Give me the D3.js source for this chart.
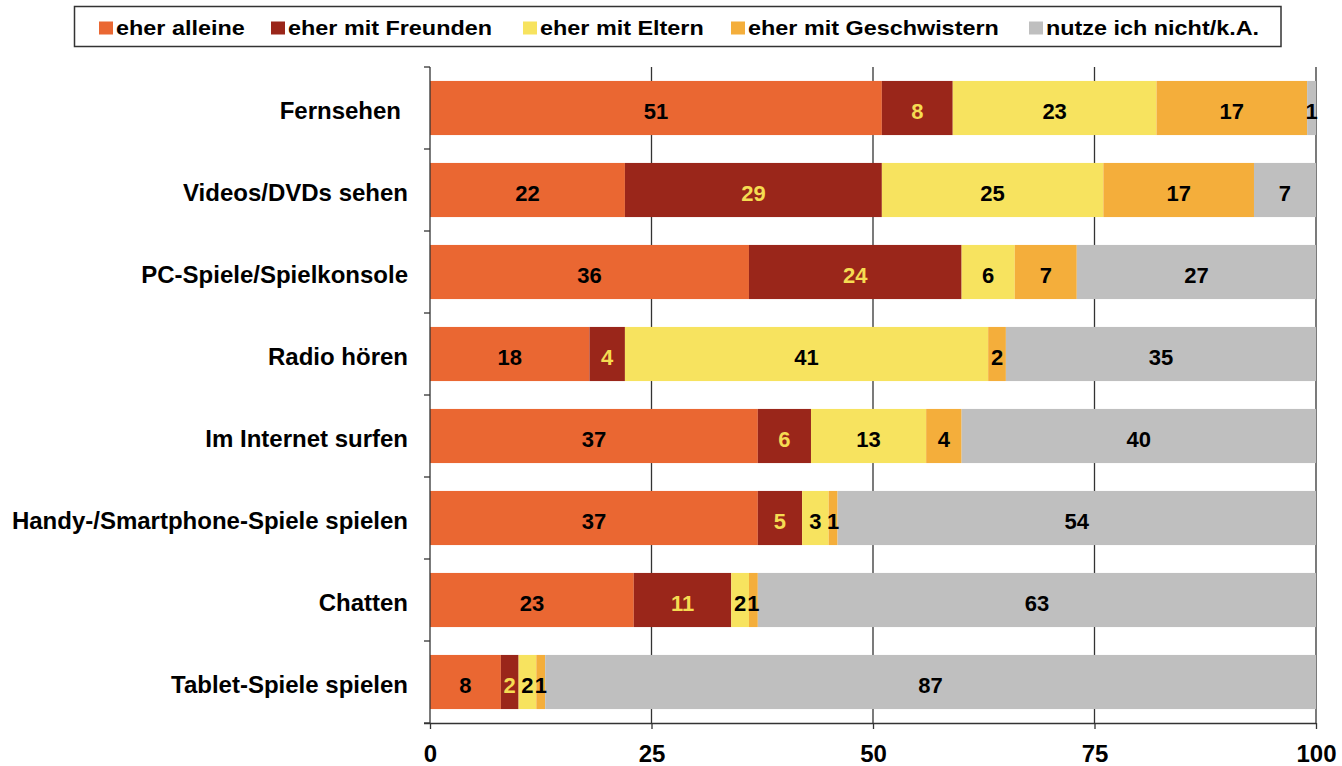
<!DOCTYPE html>
<html><head><meta charset="utf-8">
<script src="https://cdn.jsdelivr.net/npm/d3@7"></script>
<style>body{margin:0;background:#fff}svg{display:block}text{font-family:"Liberation Sans",Arial,sans-serif;font-weight:bold}</style>
</head><body><svg id="c" width="1342" height="766"></svg>
<script>
const categories = ["Fernsehen","Videos/DVDs sehen","PC-Spiele/Spielkonsole","Radio hören","Im Internet surfen","Handy-/Smartphone-Spiele spielen","Chatten","Tablet-Spiele spielen"];
const seriesNames = ["eher alleine","eher mit Freunden","eher mit Eltern","eher mit Geschwistern","nutze ich nicht/k.A."];
const alleine     = [51,22,36,18,37,37,23,8];
const freunden    = [8,29,24,4,6,5,11,2];
const eltern      = [23,25,6,41,13,3,2,2];
const geschwister = [17,17,7,2,4,1,1,1];
const nicht       = [1,7,27,35,40,54,63,87];
const xTicks = [0,25,50,75,100];
const colors = ["#EA6732","#9A261A","#F7E35F","#F4AE3B","#BFBFBF"];
const labelColors = ["#000","#F5DC52","#000","#000","#000"];

const seriesVals = [alleine,freunden,eltern,geschwister,nicht];
const rows = categories.map((c,i)=>{const o={cat:c};seriesNames.forEach((s,j)=>o[s]=seriesVals[j][i]);return o;});
const stack = d3.stack().keys(seriesNames)(rows);

const svg = d3.select("#c");
const m = {l:430,r:1316,t:67,b:723};
const x = d3.scaleLinear().domain([0,100]).range([m.l,m.r]);
const y = d3.scaleBand().domain(categories).range([m.t,m.b]).paddingInner(0.34).paddingOuter(0.17);
const yb = d3.scaleBand().domain(categories).range([m.t,m.b]);

// gridlines
svg.append("g").selectAll("line").data(xTicks.slice(1)).join("line")
  .attr("x1",d=>x(d)).attr("x2",d=>x(d)).attr("y1",m.t).attr("y2",m.b)
  .attr("stroke","#333").attr("stroke-width",1.3);

// bars
const g = svg.append("g");
stack.forEach((s,j)=>{
  g.append("g").selectAll("rect").data(s).join("rect")
    .attr("x",d=>x(d[0])).attr("width",d=>x(d[1])-x(d[0]))
    .attr("y",d=>y(d.data.cat)).attr("height",y.bandwidth())
    .attr("fill",colors[j]);
});
stack.forEach((s,j)=>{
  g.append("g").selectAll("text").data(s).join("text")
    .attr("x",d=>(x(d[0])+x(d[1]))/2).attr("y",d=>y(d.data.cat)+y.bandwidth()/2)
    .attr("dy","0.48em").attr("text-anchor","middle")
    .attr("font-size",22).attr("fill",labelColors[j])
    .text(d=>d[1]-d[0]);
});

// left axis
const ya = svg.append("g");
ya.append("line").attr("x1",m.l).attr("x2",m.l).attr("y1",m.t).attr("y2",m.b).attr("stroke","#333").attr("stroke-width",1.3);
const bounds = categories.map(c=>yb(c)).concat([m.b]);
ya.selectAll("line.t").data(bounds).join("line").attr("class","t")
  .attr("x1",m.l-6).attr("x2",m.l).attr("y1",d=>d).attr("y2",d=>d).attr("stroke","#333").attr("stroke-width",1.3);
ya.selectAll("text").data(categories).join("text")
  .attr("x",d=>d==="Fernsehen"?401:408).attr("y",d=>y(d)+y.bandwidth()/2).attr("dy","0.46em")
  .attr("text-anchor","end").attr("font-size",24).attr("fill","#000").text(d=>d);

// bottom axis
const xa = svg.append("g").attr("transform",`translate(0,${m.b})`)
  .call(d3.axisBottom(x).tickValues(xTicks).tickSize(6).tickPadding(16));
xa.select(".domain").attr("stroke","#333").attr("stroke-width",1.3).attr("d",`M${m.l-6},0.5H${m.r}`);
xa.selectAll(".tick line").attr("stroke","#333").attr("stroke-width",1.3);
xa.selectAll(".tick text").attr("font-size",24).attr("fill","#000").attr("font-family","Liberation Sans, Arial, sans-serif").attr("font-weight","bold");

// legend
const lg = svg.append("g");
lg.append("rect").attr("x",74.5).attr("y",6.5).attr("width",1206.5).attr("height",40).attr("fill","#fff").attr("stroke","#333").attr("stroke-width",1.5);
const lx = [99,271,523,731,1029];
seriesNames.forEach((s,j)=>{
  lg.append("rect").attr("x",lx[j]).attr("y",21.5).attr("width",14).attr("height",13).attr("fill",colors[j]);
  lg.append("text").attr("transform",`translate(${lx[j]+17},35) scale(1.17,1)`).attr("font-size",20).attr("fill","#000").text(s);
});
</script></body></html>
